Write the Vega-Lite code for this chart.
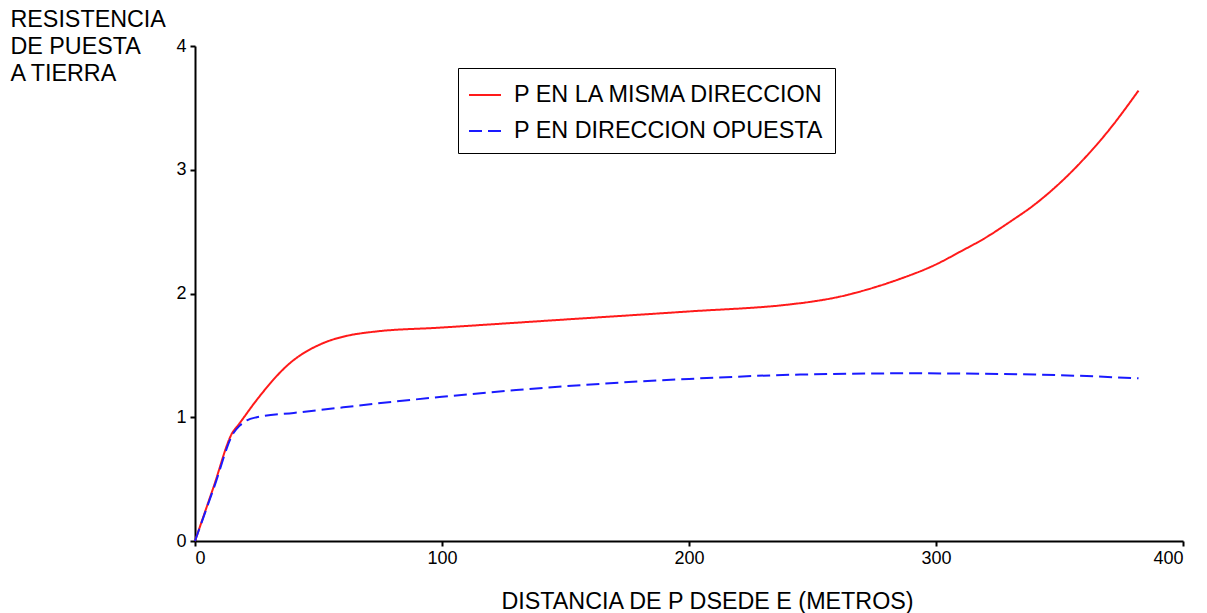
{
  "$schema": "https://vega.github.io/schema/vega-lite/v6.json",
  "width": 988,
  "height": 495,
  "autosize": {"type": "none"},
  "padding": {"left": 195, "top": 46, "right": 24, "bottom": 72},
  "background": "white",
  "config": {
    "view": {"stroke": null},
    "font": "Liberation Sans"
  },
  "data": {
    "values": [
      {"d": 0, "r": 0, "s": "P EN LA MISMA DIRECCION"},
      {"d": 7.5, "r": 0.435, "s": "P EN LA MISMA DIRECCION"},
      {"d": 15, "r": 0.87, "s": "P EN LA MISMA DIRECCION"},
      {"d": 18, "r": 0.95, "s": "P EN LA MISMA DIRECCION"},
      {"d": 25, "r": 1.14, "s": "P EN LA MISMA DIRECCION"},
      {"d": 38, "r": 1.43, "s": "P EN LA MISMA DIRECCION"},
      {"d": 52, "r": 1.6, "s": "P EN LA MISMA DIRECCION"},
      {"d": 62, "r": 1.66, "s": "P EN LA MISMA DIRECCION"},
      {"d": 72, "r": 1.69, "s": "P EN LA MISMA DIRECCION"},
      {"d": 100, "r": 1.725, "s": "P EN LA MISMA DIRECCION"},
      {"d": 150, "r": 1.79, "s": "P EN LA MISMA DIRECCION"},
      {"d": 200, "r": 1.855, "s": "P EN LA MISMA DIRECCION"},
      {"d": 240, "r": 1.91, "s": "P EN LA MISMA DIRECCION"},
      {"d": 250, "r": 1.935, "s": "P EN LA MISMA DIRECCION"},
      {"d": 260, "r": 1.97, "s": "P EN LA MISMA DIRECCION"},
      {"d": 270, "r": 2.02, "s": "P EN LA MISMA DIRECCION"},
      {"d": 285, "r": 2.115, "s": "P EN LA MISMA DIRECCION"},
      {"d": 300, "r": 2.235, "s": "P EN LA MISMA DIRECCION"},
      {"d": 310, "r": 2.34, "s": "P EN LA MISMA DIRECCION"},
      {"d": 320, "r": 2.45, "s": "P EN LA MISMA DIRECCION"},
      {"d": 330, "r": 2.58, "s": "P EN LA MISMA DIRECCION"},
      {"d": 340, "r": 2.72, "s": "P EN LA MISMA DIRECCION"},
      {"d": 350, "r": 2.89, "s": "P EN LA MISMA DIRECCION"},
      {"d": 360, "r": 3.09, "s": "P EN LA MISMA DIRECCION"},
      {"d": 370, "r": 3.32, "s": "P EN LA MISMA DIRECCION"},
      {"d": 382, "r": 3.64, "s": "P EN LA MISMA DIRECCION"},
      {"d": 0, "r": 0, "s": "P EN DIRECCION OPUESTA"},
      {"d": 7.75, "r": 0.435, "s": "P EN DIRECCION OPUESTA"},
      {"d": 15.5, "r": 0.87, "s": "P EN DIRECCION OPUESTA"},
      {"d": 18, "r": 0.93, "s": "P EN DIRECCION OPUESTA"},
      {"d": 21, "r": 0.975, "s": "P EN DIRECCION OPUESTA"},
      {"d": 25, "r": 1.0, "s": "P EN DIRECCION OPUESTA"},
      {"d": 40, "r": 1.035, "s": "P EN DIRECCION OPUESTA"},
      {"d": 60, "r": 1.08, "s": "P EN DIRECCION OPUESTA"},
      {"d": 80, "r": 1.125, "s": "P EN DIRECCION OPUESTA"},
      {"d": 100, "r": 1.165, "s": "P EN DIRECCION OPUESTA"},
      {"d": 130, "r": 1.22, "s": "P EN DIRECCION OPUESTA"},
      {"d": 164, "r": 1.27, "s": "P EN DIRECCION OPUESTA"},
      {"d": 200, "r": 1.31, "s": "P EN DIRECCION OPUESTA"},
      {"d": 245, "r": 1.345, "s": "P EN DIRECCION OPUESTA"},
      {"d": 290, "r": 1.355, "s": "P EN DIRECCION OPUESTA"},
      {"d": 340, "r": 1.345, "s": "P EN DIRECCION OPUESTA"},
      {"d": 382, "r": 1.315, "s": "P EN DIRECCION OPUESTA"}
    ]
  },
  "mark": {"type": "line", "interpolate": "monotone", "strokeWidth": 2},
  "encoding": {
    "x": {
      "field": "d",
      "type": "quantitative",
      "scale": {"domain": [0, 400], "nice": false},
      "axis": {
        "title": "DISTANCIA DE P DSEDE E (METROS)",
        "values": [0, 100, 200, 300, 400],
        "grid": false,
        "domainColor": "black",
        "domainWidth": 2,
        "tickColor": "black",
        "tickWidth": 2,
        "tickSize": 5,
        "labelFontSize": 18,
        "labelColor": "black",
        "labelPadding": 3,
        "titleFontSize": 23.3,
        "titleFontWeight": "normal",
        "titleColor": "black",
        "titleX": 512,
        "titleY": 67,
        "titleBaseline": "alphabetic"
      }
    },
    "y": {
      "field": "r",
      "type": "quantitative",
      "scale": {"domain": [0, 4], "nice": false},
      "axis": {
        "title": ["RESISTENCIA", "DE PUESTA", "A TIERRA"],
        "values": [0, 1, 2, 3, 4],
        "grid": false,
        "domainColor": "black",
        "domainWidth": 2,
        "tickColor": "black",
        "tickWidth": 2,
        "tickSize": 5,
        "labelFontSize": 18,
        "labelColor": "black",
        "labelPadding": 4,
        "titleFontSize": 23.3,
        "titleFontWeight": "normal",
        "titleColor": "black",
        "titleAngle": 0,
        "titleAlign": "left",
        "titleBaseline": "alphabetic",
        "titleX": -185,
        "titleY": -20,
        "titleLineHeight": 27
      }
    },
    "color": {
      "field": "s",
      "type": "nominal",
      "scale": {"domain": ["P EN LA MISMA DIRECCION", "P EN DIRECCION OPUESTA"], "range": ["#ff1a1a", "#1a1aff"]},
      "legend": {
        "title": null,
        "orient": "none",
        "legendX": 263,
        "legendY": 22,
        "strokeColor": "black",
        "fillColor": "white",
        "padding": 10,
        "symbolType": "stroke",
        "symbolSize": 1024,
        "symbolStrokeWidth": 2,
        "labelFontSize": 23.4,
        "labelColor": "black",
        "labelOffset": 12,
        "rowPadding": 7,
        "labelLimit": 400
      }
    },
    "strokeDash": {
      "field": "s",
      "type": "nominal",
      "scale": {"domain": ["P EN LA MISMA DIRECCION", "P EN DIRECCION OPUESTA"], "range": [[1, 0], [13, 6]]},
      "legend": null
    }
  }
}
